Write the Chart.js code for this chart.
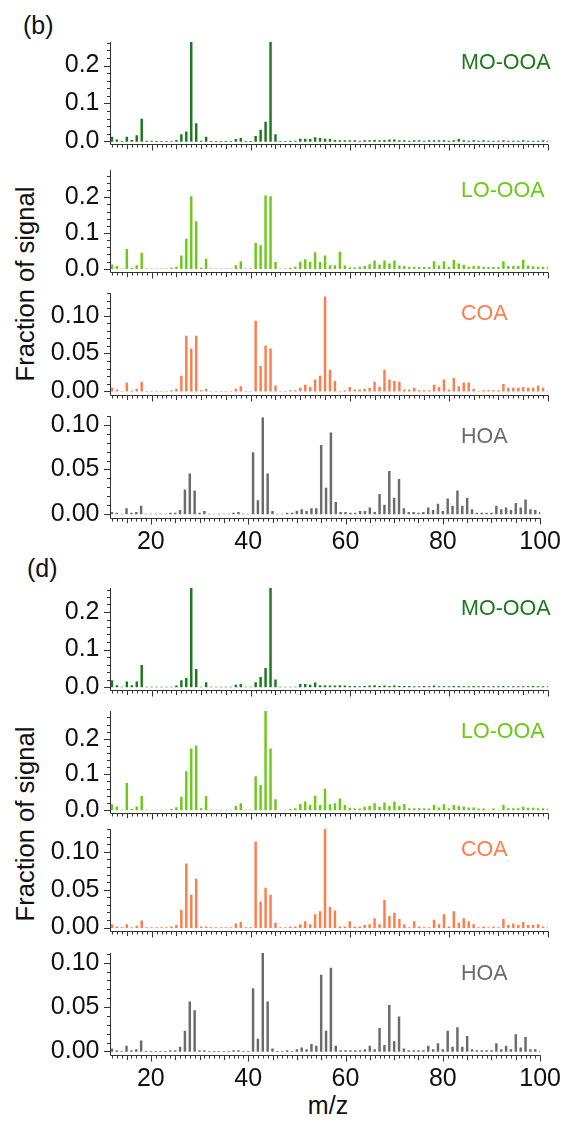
<!DOCTYPE html>
<html>
<head>
<meta charset="utf-8">
<script src="https://cdn.jsdelivr.net/npm/chart.js@4.4.0/dist/chart.umd.min.js"></script>
<style>
  body { margin: 0; background: #fff; width: 570px; height: 1122px; position: relative; overflow: hidden;
         font-family: "Liberation Sans", Arial, sans-serif; color: #111; }
  .panel { position: absolute; left: 0; width: 570px; }
  .lbl { position: absolute; white-space: nowrap; }
  .name { font-size: 21.5px; line-height: 26px; left: 461px; }
  .ytitle { font-size: 25.6px; line-height: 30px; width: 300px; text-align: center; transform: rotate(-90deg); }
</style>
</head>
<body>
<div class="lbl" style="left:23px;top:10px;font-size:25px;line-height:30px">(b)</div>
<div class="lbl" style="left:27px;top:553px;font-size:25px;line-height:30px">(d)</div>
<div class="lbl ytitle" style="left:-125px;top:269px">Fraction of signal</div>
<div class="lbl ytitle" style="left:-125px;top:809px">Fraction of signal</div>
<div class="lbl" style="left:288px;top:1090px;width:80px;text-align:center;font-size:25px;line-height:30px">m/z</div>

<script>
// m/z 12..100
const mz = [12,13,14,15,16,17,18,19,20,21,22,23,24,25,26,27,28,29,30,31,32,33,34,35,36,37,38,39,40,41,
  42,43,44,45,46,47,48,49,50,51,52,53,54,55,56,57,58,59,60,61,62,63,64,65,66,67,68,69,70,71,
  72,73,74,75,76,77,78,79,80,81,82,83,84,85,86,87,88,89,90,91,92,93,94,95,96,97,98,99,100];
const xTicks = [20, 40, 60, 80, 100];
const yTicksOOA = [0, 0.1, 0.2];
const yTicksPA = [0, 0.05, 0.10];

// panel (b)
const moB = [.011,.004,0,.011,.003,.015,.059,.001,.001,0,
  0,0,0,.003,.018,.025,.28,.047,.001,.011,
  0,0,0,0,0,.005,.008,0,0,.013,
  .030,.051,.28,.018,0,0,.001,.001,.006,.006,
  .005,.010,.008,.006,.005,.003,.002,.002,.002,.002,
  .001,.002,.002,.003,.002,.003,.004,.004,.002,.002,
  .001,.002,.002,.001,.002,.002,.002,.002,.001,.002,
  .005,.002,.001,.002,.001,.002,.001,.001,.001,.002,
  .001,.001,.001,.002,.001,.001,.001,.002,.001];
const loB = [.011,.007,0,.054,.002,.009,.044,0,0,0,
  0,0,.002,.005,.036,.083,.202,.132,.002,.027,
  0,0,0,0,0,.009,.020,0,0,.071,
  .065,.204,.202,.018,0,0,.002,.005,.019,.026,
  .018,.045,.018,.036,.009,.009,.047,.008,.003,.003,
  .005,.007,.012,.022,.011,.022,.014,.022,.008,.007,
  .005,.004,.004,.004,.004,.020,.008,.020,.005,.024,
  .014,.010,.005,.007,.007,.005,.004,.004,.004,.020,
  .007,.007,.007,.024,.008,.006,.005,.005,.005];
const coaB = [.004,.002,0,.011,.0005,.003,.012,0,0,0,
  0,0,.001,.003,.020,.073,.056,.073,.001,.003,
  0,0,0,0,0,.003,.006,0,0,.093,
  .033,.060,.056,.007,0,0,.001,.001,.004,.008,
  .005,.015,.020,.125,.028,.013,0,.001,.005,.002,
  .002,.003,.004,.012,.005,.028,.015,.013,.012,.002,
  .002,.004,.001,.001,.001,.008,.005,.015,.002,.017,
  .006,.011,.011,.003,0,.001,.001,.001,.001,.009,
  .004,.004,.004,.005,.004,.004,.007,.004,0];
const hoaB = [.002,.001,0,.006,.001,.002,.009,0,0,0,
  0,0,.001,.001,.004,.027,.045,.026,.001,.003,
  0,0,0,0,0,.001,.002,0,0,.069,
  .015,.108,.045,.003,0,0,.001,.001,.003,.005,
  .003,.006,.006,.077,.029,.091,.013,.002,.002,.001,
  .001,.003,.003,.007,.002,.022,.010,.048,.018,.039,
  .006,.002,.002,.001,.002,.007,.004,.011,.003,.017,
  .009,.026,.009,.018,.005,.001,.001,.001,.001,.009,
  .005,.007,.004,.012,.007,.016,.005,.004,.002];

// panel (d)
const moD = [.017,.004,0,.014,.004,.014,.058,0,0,0,
  0,0,0,.003,.017,.023,.28,.047,0,.012,
  0,0,0,0,0,.005,.007,0,0,.012,
  .026,.050,.28,.019,0,0,0,0,.007,.007,
  .005,.011,.004,.004,.003,.003,.004,.003,.002,.002,
  .001,.002,.003,.004,.002,.003,.002,.003,.002,.002,
  .002,.001,.001,.002,.001,.003,.001,.001,.001,.002,
  .002,.001,.001,.002,.001,.002,.001,.001,.001,.002,
  .001,.001,.001,.001,.001,.002,.001,.001,.001];
const loD = [.015,.009,0,.075,.002,.009,.038,0,0,0,
  0,0,.002,.007,.036,.108,.172,.180,.004,.038,
  0,0,0,0,0,.010,.018,0,0,.094,
  .069,.278,.172,.029,0,0,.002,.004,.016,.023,
  .013,.039,.013,.059,.015,.018,.031,.013,.005,.003,
  .003,.008,.010,.018,.008,.020,.010,.023,.010,.016,
  .004,.004,.004,.004,.003,.013,.006,.015,.004,.013,
  .010,.009,.006,.006,.003,.003,0,.003,0,.013,
  .004,.004,.004,.008,.005,.005,.004,.004,.003];
const coaD = [.004,.001,0,.004,0,.002,.009,0,0,0,
  0,0,.001,.003,.023,.084,.043,.064,.001,.001,
  0,0,0,0,0,.005,.007,0,0,.113,
  .034,.052,.043,.006,0,0,.001,.001,.004,.008,
  .004,.017,.021,.135,.027,.022,.001,.001,.008,.001,
  .001,.003,.004,.012,.004,.036,.015,.019,.011,.004,
  0,.008,.001,0,0,.010,.004,.017,.001,.021,
  .006,.012,.008,.004,0,.001,0,.001,0,.011,
  .003,.005,.003,.007,.003,.003,.004,.001,0];
const hoaD = [.003,.001,0,.006,.001,.002,.012,0,0,0,
  0,0,.001,.001,.005,.023,.056,.046,.001,.001,
  0,0,0,0,0,.001,.001,0,0,.071,
  .014,.112,.056,.003,0,0,.001,0,.002,.004,
  .002,.008,.006,.086,.023,.094,.006,.001,.001,.001,
  .001,.001,.002,.006,.002,.026,.007,.052,.011,.039,
  .003,.001,.001,.001,.001,.006,.002,.009,.002,.023,
  .005,.027,.005,.017,.002,.001,.001,.001,.001,.009,
  .002,.006,.002,.019,.004,.016,.002,.002,0];

const MO = '#1a7a1a', LO = '#6acb17', COA = '#ff7d4a', HOA = '#6b6b6b';
const FONT = '"Liberation Sans", Arial, sans-serif';

const panels = [
  { top: 41.7,  name: 'MO-OOA', values: moB,  color: MO,  min: -0.007,  max: 0.262, ticks: yTicksOOA, minor: 0.02, dec: 1 },
  { top: 170,   name: 'LO-OOA', values: loB,  color: LO,  min: -0.009,  max: 0.276, ticks: yTicksOOA, minor: 0.02, dec: 1 },
  { top: 293.3, name: 'COA',    values: coaB, color: COA, min: -0.005,  max: 0.130, ticks: yTicksPA,  minor: 0.01, dec: 2 },
  { top: 416,   name: 'HOA',    values: hoaB, color: HOA, min: -0.0045, max: 0.110, ticks: yTicksPA,  minor: 0.01, dec: 2, labels: true },
  { top: 588.3, name: 'MO-OOA', values: moD,  color: MO,  min: -0.008,  max: 0.264, ticks: yTicksOOA, minor: 0.02, dec: 1 },
  { top: 710.7, name: 'LO-OOA', values: loD,  color: LO,  min: -0.0085, max: 0.278, ticks: yTicksOOA, minor: 0.02, dec: 1 },
  { top: 829.3, name: 'COA',    values: coaD, color: COA, min: -0.0045, max: 0.130, ticks: yTicksPA,  minor: 0.01, dec: 2 },
  { top: 953.3, name: 'HOA',    values: hoaD, color: HOA, min: -0.004,  max: 0.111, ticks: yTicksPA,  minor: 0.01, dec: 2, labels: true }
];

// axis lines plus major/minor tick marks, drawn off the chart scales
const axisPlugin = {
  id: 'axes',
  afterDraw(chart, args, opts) {
    const { ctx, chartArea: a, scales: { x, y } } = chart;
    const L = Math.round(a.left) + 0.5, B = Math.round(a.bottom) + 0.5;
    ctx.save();
    ctx.strokeStyle = '#333';
    ctx.lineWidth = 1;
    ctx.beginPath();
    ctx.moveTo(L, a.top);
    ctx.lineTo(L, B);
    ctx.lineTo(a.right + 0.5, B);
    for (let m = 12; m <= 100; m++) {
      const px = Math.round(x.getPixelForValue(m)) + 0.5;
      const len = m % 20 === 0 ? 6 : (m % 5 === 0 ? 4.5 : 3);
      ctx.moveTo(px, B);
      ctx.lineTo(px, B + len);
    }
    for (let k = 0; k * opts.minor <= opts.max + 1e-9; k++) {
      const py = Math.round(y.getPixelForValue(k * opts.minor)) + 0.5;
      ctx.moveTo(L, py);
      ctx.lineTo(L - (k % 5 === 0 ? 6.5 : 3.5), py);
    }
    ctx.stroke();
    ctx.restore();
  }
};

panels.forEach(p => {
  const xh = p.labels ? 40 : 10;
  const box = document.createElement('div');
  box.className = 'panel';
  box.style.top = (p.top - 8) + 'px';
  box.style.height = (8 + 102 + xh) + 'px';
  const cv = document.createElement('canvas');
  box.appendChild(cv);
  document.body.appendChild(box);

  const name = document.createElement('div');
  name.className = 'lbl name';
  name.style.top = (p.top + 7) + 'px';
  name.style.color = p.color;
  name.textContent = p.name;
  document.body.appendChild(name);

  new Chart(cv, {
    type: 'bar',
    data: {
      datasets: [{
        data: mz.map((m, i) => ({ x: m, y: p.values[i] })),
        backgroundColor: p.color,
        borderWidth: 0,
        barThickness: 1.8
      }]
    },
    options: {
      responsive: true,
      maintainAspectRatio: false,
      animation: false,
      layout: { padding: { top: 8, right: 22, left: 0, bottom: 0 } },
      plugins: {
        legend: { display: false },
        tooltip: { enabled: false },
        axes: { max: p.max, minor: p.minor }
      },
      scales: {
        x: {
          type: 'linear', min: 11.5, max: 100, offset: false,
          grid: { display: false, drawTicks: false },
          border: { display: false },
          afterBuildTicks: s => { s.ticks = xTicks.map(v => ({ value: v })); },
          ticks: { display: !!p.labels, padding: 9, color: '#111', maxRotation: 0, autoSkip: false,
                   font: { family: FONT, size: 25 } },
          afterFit: s => { s.height = xh; s.paddingLeft = 0; }
        },
        y: {
          min: p.min, max: p.max,
          grid: { display: false, drawTicks: false },
          border: { display: false },
          afterBuildTicks: s => { s.ticks = p.ticks.map(v => ({ value: v })); },
          ticks: { padding: 10, color: '#111', font: { family: FONT, size: 25 },
                   callback: v => v.toFixed(p.dec) },
          afterFit: s => { s.width = 109.5; s.paddingTop = 0; s.paddingBottom = 0; }
        }
      }
    },
    plugins: [axisPlugin]
  });
});
</script>
</body>
</html>
